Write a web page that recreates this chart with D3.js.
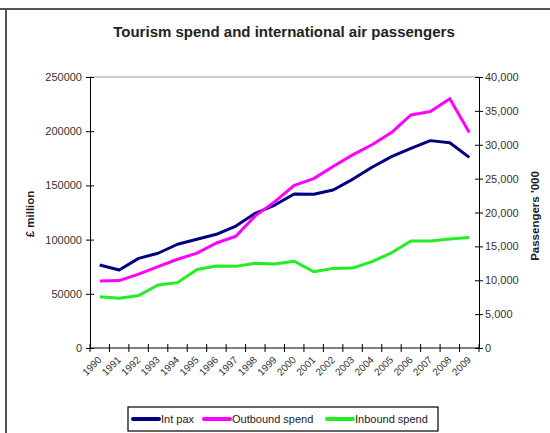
<!DOCTYPE html>
<html>
<head>
<meta charset="utf-8">
<script src="https://cdn.jsdelivr.net/npm/d3@7"></script>
<style>
  body { margin: 0; background: #fff; }
  svg { font-family: "Liberation Sans", Arial, sans-serif; }
</style>
</head>
<body>
<svg id="chart" width="550" height="433"></svg>
<script>
// Tourism spend vs international air passengers
const years = d3.range(1990, 2010).map(String);
const intPax = [76600, 72000, 82700, 87400, 95700, 100300, 104900, 112500, 124300, 131900,
                142100, 141800, 145700, 155600, 166700, 176500, 184200, 191300, 189400, 175900];
const outboundSpend = [9900, 9950, 10900, 12000, 13100, 14000, 15500, 16500, 19500, 21600,
                       24000, 25000, 26800, 28500, 30000, 31800, 34400, 34900, 36800, 31800];
const inboundSpend = [7570, 7330, 7750, 9300, 9650, 11600, 12100, 12050, 12500, 12400,
                      12800, 11250, 11750, 11800, 12750, 14050, 15800, 15800, 16100, 16300];
const leftTicks = [0, 50000, 100000, 150000, 200000, 250000];
const rightTicks = [0, 5000, 10000, 15000, 20000, 25000, 30000, 35000, 40000];

const series = [
  { name: 'Int pax', values: intPax, axis: 'left', color: '#000080' },
  { name: 'Outbound spend', values: outboundSpend, axis: 'right', color: '#ff00ff' },
  { name: 'Inbound spend', values: inboundSpend, axis: 'right', color: '#22ee22' }
];

(function() {
  const svg = d3.select('#chart');
  const x0 = 90, x1 = 479, y0 = 77, y1 = 348;

  // outer frame
  svg.append('line').attr('x1', 0).attr('x2', 550).attr('y1', 9).attr('y2', 9)
    .attr('stroke', '#555').attr('stroke-width', 2);
  svg.append('line').attr('x1', 6).attr('x2', 6).attr('y1', 9).attr('y2', 433)
    .attr('stroke', '#555').attr('stroke-width', 2);

  svg.append('text').attr('x', 284).attr('y', 37).attr('text-anchor', 'middle')
    .attr('font-size', 15).attr('font-weight', 'bold').attr('fill', '#222')
    .text('Tourism spend and international air passengers');

  const x = d3.scaleBand().domain(years).range([x0, x1]);
  const yL = d3.scaleLinear().domain([0, 250000]).range([y1, y0]);
  const yR = d3.scaleLinear().domain([0, 40000]).range([y1, y0]);

  // top gridline
  svg.append('line').attr('x1', x0).attr('x2', x1).attr('y1', y0).attr('y2', y0)
    .attr('stroke', '#999').attr('stroke-width', 1);

  // left axis
  const gl = svg.append('g').attr('transform', `translate(${x0},0)`)
    .call(d3.axisLeft(yL).tickValues(leftTicks).tickFormat(d3.format('d')).tickSize(0).tickPadding(8));
  gl.attr('font-family', null);
  gl.select('.domain').attr('stroke', '#000');
  gl.selectAll('.tick').append('line').attr('x1', -4).attr('x2', 4).attr('stroke', '#000');
  gl.selectAll('text').attr('font-size', 11).attr('fill', '#333');

  // right axis
  const gr = svg.append('g').attr('transform', `translate(${x1},0)`)
    .call(d3.axisRight(yR).tickValues(rightTicks).tickFormat(d3.format(',')).tickSize(0).tickPadding(6));
  gr.attr('font-family', null);
  gr.select('.domain').attr('stroke', '#000');
  gr.selectAll('.tick').append('line').attr('x1', -4).attr('x2', 4).attr('stroke', '#000');
  gr.selectAll('text').attr('font-size', 11).attr('fill', '#333');

  // x axis
  svg.append('line').attr('x1', x0).attr('x2', x1).attr('y1', y1).attr('y2', y1)
    .attr('stroke', '#000');
  const bounds = years.map(d => x(d)).concat([x1]);
  svg.selectAll('.xtick').data(bounds).enter().append('line')
    .attr('x1', d => d).attr('x2', d => d).attr('y1', y1 - 4).attr('y2', y1 + 4)
    .attr('stroke', '#000');
  svg.selectAll('.xlab').data(years).enter().append('text')
    .attr('transform', d => `translate(${x(d) + x.bandwidth() / 2},${y1 + 10}) rotate(-45)`)
    .attr('text-anchor', 'end').attr('dy', '0.35em')
    .attr('font-size', 10).attr('fill', '#333')
    .text(d => d);

  // axis titles
  svg.append('text').attr('transform', 'translate(34,214) rotate(-90)')
    .attr('text-anchor', 'middle').attr('font-size', 11.5).attr('font-weight', 'bold').attr('fill', '#222')
    .text('£ million');
  svg.append('text').attr('transform', 'translate(539,216) rotate(-90)')
    .attr('text-anchor', 'middle').attr('font-size', 11.5).attr('font-weight', 'bold').attr('fill', '#222')
    .text("Passengers '000");

  // lines
  series.forEach(s => {
    const yS = s.axis === 'left' ? yL : yR;
    const line = d3.line()
      .x((d, i) => x(years[i]) + x.bandwidth() / 2)
      .y(d => yS(d));
    svg.append('path').datum(s.values).attr('d', line)
      .attr('fill', 'none').attr('stroke', s.color).attr('stroke-width', 3)
      .attr('stroke-linejoin', 'round');
  });

  // legend
  const lg = svg.append('g').attr('transform', 'translate(128,407)');
  lg.append('rect').attr('width', 310).attr('height', 24)
    .attr('fill', '#fff').attr('stroke', '#000').attr('stroke-width', 1.2);
  const legendX = [4, 75, 198];
  series.forEach((s, i) => {
    const it = lg.append('g').attr('transform', `translate(${legendX[i]},12)`);
    it.append('line').attr('x1', 1).attr('x2', 27).attr('stroke', s.color)
      .attr('stroke-width', 4).attr('stroke-linecap', 'round');
    it.append('text').attr('x', 29).attr('dy', '0.35em').attr('font-size', 11).attr('fill', '#222')
      .text(s.name);
  });
})();
</script>
</body>
</html>
